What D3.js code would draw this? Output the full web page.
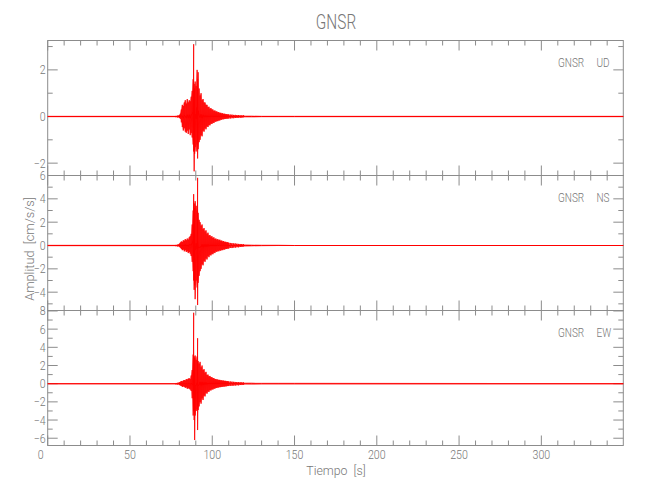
<!DOCTYPE html>
<html>
<head>
<meta charset="utf-8">
<script src="https://cdn.jsdelivr.net/npm/d3@7"></script>
<style>
  html, body { margin: 0; padding: 0; background: #fff; }
  svg { display: block; }
  text { font-family: Roboto, "Liberation Sans Narrow", "DejaVu Sans Condensed", sans-serif; font-weight: 300; fill: #777; }
</style>
</head>
<body>
<svg id="chart" width="650" height="500"></svg>
<script>
// ---------------- DATA ----------------
const chartTitle = "GNSR";
const station = "GNSR";
const components = ["UD", "NS", "EW"];
const xTitle = "Tiempo  [s]";
const yTitle = "Amplitud  [cm/s/s]";
const xDomain = [0, 349.8];
const xMajorTicks = [0, 50, 100, 150, 200, 250, 300];
const xMinorTicks = [10, 20, 30, 40, 60, 70, 80, 90, 110, 120, 130, 140, 160, 170, 180, 190,
                     210, 220, 230, 240, 260, 270, 280, 290, 310, 320, 330, 340];
const yDomains = [[-2.53, 3.26], [-5.57, 6.0], [-6.8, 8.05]];
const yMajorTicks = [[-2, 0, 2], [-4, -2, 0, 2, 4, 6], [-6, -4, -2, 0, 2, 4, 6, 8]];
const yMinorTicks = [[-1, 1, 3], [-5, -3, -1, 1, 3, 5], [-5, -3, -1, 1, 3, 5, 7]];

// envelopes: [time s, max, min] (cm/s/s)
const udEnvelope = [
  [0,0.03,-0.03],[78,0.03,-0.03],[79,0.04,-0.04],[80,0.06,-0.06],[80.6,0.12,-0.1],[81.2,0.3,-0.25],
  [81.8,0.5,-0.45],[82.4,0.45,-0.6],[83,0.6,-0.5],[83.6,0.7,-0.65],[84.2,0.55,-0.7],[84.8,0.75,-0.6],
  [85.4,0.6,-0.75],[86,0.7,-0.55],[86.6,0.65,-0.8],[87.2,0.85,-0.7],[87.8,1.1,-0.9],[88.4,1.6,-1.2],
  [88.7,3.1,-1.5],[89,1.4,-2.35],[89.3,1.2,-1.6],[89.6,1.5,-1.3],[90.2,1.3,-1.5],[90.8,2.0,-1.2],
  [91.1,1.6,-1.8],[91.4,1.9,-1.4],[92,1.2,-1.1],[92.6,0.9,-1.0],[93.2,1.0,-0.8],[93.8,0.7,-0.85],
  [94.4,0.75,-0.6],[95,0.6,-0.65],[95.6,0.6,-0.5],[96.2,0.5,-0.55],[96.8,0.5,-0.42],[97.4,0.4,-0.45],
  [98,0.42,-0.36],[98.6,0.33,-0.38],[99.2,0.36,-0.3],[99.8,0.3,-0.32],[100.4,0.3,-0.26],[101,0.24,-0.28],
  [101.6,0.26,-0.21],[102.2,0.21,-0.23],[102.8,0.22,-0.19],[103.4,0.18,-0.2],[104,0.19,-0.16],[104.6,0.15,-0.17],
  [105.2,0.16,-0.13],[105.8,0.13,-0.14],[106.4,0.14,-0.11],[107,0.11,-0.12],[107.6,0.12,-0.1],[108.2,0.1,-0.1],
  [108.8,0.1,-0.09],[109.4,0.09,-0.09],[110,0.09,-0.08],[111,0.08,-0.08],[112,0.08,-0.07],[113,0.07,-0.07],
  [114,0.07,-0.06],[115,0.06,-0.06],[116,0.06,-0.05],[117,0.05,-0.05],[118,0.05,-0.05],[119,0.05,-0.04],
  [120,0.04,-0.04],[124,0.04,-0.04],[130,0.035,-0.035],[140,0.03,-0.03],[150,0.03,-0.03],[349.8,0.03,-0.03]
];
const nsEnvelope = [
  [0,0.06,-0.06],[78,0.06,-0.06],[79,0.08,-0.08],[80,0.15,-0.12],[80.6,0.25,-0.2],[81.2,0.35,-0.3],
  [81.8,0.3,-0.4],[82.4,0.45,-0.35],[83,0.4,-0.5],[83.6,0.55,-0.4],[84.2,0.45,-0.55],[84.8,0.6,-0.5],
  [85.4,0.5,-0.65],[86,0.7,-0.55],[86.6,0.8,-0.7],[87.2,1.0,-0.9],[87.8,1.8,-1.4],[88.4,3.0,-2.2],
  [88.7,4.4,-3.0],[89,3.6,-3.8],[89.3,3.2,-3.4],[89.6,3.8,-4.6],[90.2,3.4,-3.0],[90.8,3.0,-3.6],
  [91.1,5.8,-5.1],[91.4,2.8,-3.2],[92,2.2,-2.6],[92.6,2.0,-2.2],[93.2,1.7,-2.0],[93.8,1.8,-1.6],
  [94.4,1.4,-1.7],[95,1.5,-1.3],[95.6,1.2,-1.4],[96.2,1.3,-1.1],[96.8,1.0,-1.2],[97.4,1.1,-0.9],
  [98,0.85,-1.0],[98.6,0.9,-0.8],[99.2,0.75,-0.85],[99.8,0.8,-0.7],[100.4,0.65,-0.75],[101,0.7,-0.6],
  [101.6,0.55,-0.65],[102.2,0.6,-0.5],[102.8,0.5,-0.55],[103.4,0.55,-0.45],[104,0.45,-0.5],[104.6,0.5,-0.4],
  [105.2,0.4,-0.45],[105.8,0.42,-0.36],[106.4,0.35,-0.4],[107,0.38,-0.32],[107.6,0.3,-0.35],[108.2,0.32,-0.28],
  [108.8,0.27,-0.3],[109.4,0.28,-0.25],[110,0.24,-0.26],[111,0.22,-0.2],[112,0.2,-0.22],[113,0.18,-0.17],
  [114,0.17,-0.18],[115,0.15,-0.14],[116,0.14,-0.15],[117,0.13,-0.12],[118,0.12,-0.12],[119,0.11,-0.1],
  [120,0.1,-0.1],[124,0.08,-0.08],[130,0.07,-0.06],[140,0.06,-0.05],[150,0.05,-0.05],[349.8,0.05,-0.05]
];
const ewEnvelope = [
  [0,0.08,-0.08],[78,0.08,-0.08],[79,0.1,-0.1],[80,0.15,-0.15],[80.6,0.2,-0.2],[81.2,0.3,-0.25],
  [81.8,0.25,-0.35],[82.4,0.35,-0.3],[83,0.4,-0.35],[83.6,0.35,-0.45],[84.2,0.5,-0.4],[84.8,0.45,-0.55],
  [85.4,0.55,-0.5],[86,0.6,-0.55],[86.6,0.5,-0.65],[87.2,0.9,-0.8],[87.8,1.5,-1.6],[88.4,3.2,-3.5],
  [88.7,7.8,-3.0],[89,3.0,-4.0],[89.3,2.8,-6.2],[89.6,3.1,-3.5],[90.2,2.6,-3.0],[90.8,3.0,-2.8],
  [91.1,5.0,-5.1],[91.4,2.5,-2.9],[92,2.2,-2.5],[92.6,2.4,-2.0],[93.2,1.8,-2.2],[93.8,2.0,-1.6],
  [94.4,1.5,-1.8],[95,1.6,-1.3],[95.6,1.2,-1.4],[96.2,1.3,-1.0],[96.8,0.95,-1.1],[97.4,1.0,-0.85],
  [98,0.8,-0.9],[98.6,0.85,-0.7],[99.2,0.7,-0.75],[99.8,0.72,-0.6],[100.4,0.6,-0.65],[101,0.62,-0.52],
  [101.6,0.5,-0.55],[102.2,0.52,-0.45],[102.8,0.45,-0.48],[103.4,0.46,-0.4],[104,0.4,-0.42],[104.6,0.42,-0.36],
  [105.2,0.36,-0.38],[105.8,0.37,-0.33],[106.4,0.33,-0.34],[107,0.34,-0.3],[107.6,0.3,-0.31],[108.2,0.31,-0.28],
  [108.8,0.27,-0.28],[109.4,0.28,-0.25],[110,0.25,-0.26],[111,0.23,-0.22],[112,0.22,-0.23],[113,0.2,-0.2],
  [114,0.19,-0.2],[115,0.18,-0.17],[116,0.17,-0.18],[117,0.16,-0.15],[118,0.15,-0.15],[119,0.14,-0.14],
  [120,0.14,-0.13],[124,0.12,-0.12],[130,0.1,-0.1],[140,0.09,-0.09],[150,0.09,-0.09],[349.8,0.08,-0.08]
];
const envelopes = [udEnvelope, nsEnvelope, ewEnvelope];

// ---------------- LAYOUT ----------------
const plotLeft = 47.7, plotRight = 623.3, plotTop = 40.5, panelH = 135;
const axisColor = "#8c8c8c", traceColor = "#ff0000";
const fmt = d3.format("d");

const svg = d3.select("#chart");
const x = d3.scaleLinear().domain(xDomain).range([plotLeft, plotRight]);

function narrow(sel, factor) {
  sel.each(function () {
    const w = this.getComputedTextLength();
    d3.select(this).attr("textLength", w * factor).attr("lengthAdjust", "spacingAndGlyphs");
  });
}

svg.append("text").attr("x", 336).attr("y", 29).attr("text-anchor", "middle")
  .style("font-size", "20.5px").text(chartTitle).call(narrow, 0.75);

components.forEach((comp, i) => {
  const y0 = plotTop + i * panelH, y1 = y0 + panelH;
  const y = d3.scaleLinear().domain(yDomains[i]).range([y1, y0]);
  const g = svg.append("g");
  const env = envelopes[i];

  // box
  g.append("rect").attr("x", plotLeft).attr("y", y0).attr("width", plotRight - plotLeft).attr("height", panelH)
    .attr("fill", "none").attr("stroke", axisColor).attr("stroke-width", 1);

  const tk = g.append("g").attr("stroke", axisColor).attr("stroke-width", 1);
  [[yMajorTicks[i], 10], [yMinorTicks[i], 5]].forEach(([ticks, len]) => {
    ticks.forEach(v => {
      tk.append("line").attr("x1", plotLeft).attr("x2", plotLeft + len).attr("y1", y(v)).attr("y2", y(v));
      tk.append("line").attr("x1", plotRight).attr("x2", plotRight - len).attr("y1", y(v)).attr("y2", y(v));
    });
  });
  [[xMajorTicks, 10], [xMinorTicks, 5]].forEach(([ticks, len]) => {
    ticks.forEach(v => {
      tk.append("line").attr("x1", x(v)).attr("x2", x(v)).attr("y1", y0).attr("y2", y0 + len);
      tk.append("line").attr("x1", x(v)).attr("x2", x(v)).attr("y1", y1).attr("y2", y1 - len);
    });
  });

  // trace: envelope fill + centre line + oscillating stroke where sampled densely
  g.append("path").datum(env)
    .attr("d", d3.area().x(d => x(d[0])).y0(d => y(d[2])).y1(d => y(d[1])))
    .attr("fill", traceColor).attr("fill-opacity", 0.55).attr("stroke", "none");
  g.append("path").datum(env)
    .attr("d", d3.line().x(d => x(d[0])).y(d => y((d[1] + d[2]) / 2)))
    .attr("fill", "none").attr("stroke", traceColor).attr("stroke-width", 1);
  const pts = [];
  env.filter((r, k) => k > 0 && k < env.length - 1 && env[k + 1][0] - r[0] <= 1)
     .forEach(r => { pts.push([r[0], r[1]]); pts.push([r[0], r[2]]); });
  g.append("path").datum(pts)
    .attr("d", d3.line().x(d => x(d[0])).y(d => y(d[1])))
    .attr("fill", "none").attr("stroke", traceColor).attr("stroke-width", 0.8);

  g.selectAll("text.ylab").data(yMajorTicks[i]).join("text")
    .attr("class", "ylab")
    .attr("x", plotLeft - 2).attr("y", d => y(d)).attr("dy", "0.36em")
    .attr("text-anchor", "end").style("font-size", "12.5px")
    .text(d => fmt(d)).call(narrow, 0.85);

  g.append("text").attr("x", 558).attr("y", y0 + 26).style("font-size", "12.8px")
    .text(station).call(narrow, 0.78);
  g.append("text").attr("x", 596.5).attr("y", y0 + 26).style("font-size", "12.8px")
    .text(comp).call(narrow, 0.78);

  if (i === components.length - 1) {
    g.selectAll("text.xlab").data(xMajorTicks).join("text")
      .attr("class", "xlab")
      .attr("x", (d, j) => x(d) + (j === 0 ? -7 : 0)).attr("y", y1 + 13)
      .attr("text-anchor", "middle").style("font-size", "12.5px")
      .text(d => fmt(d)).call(narrow, 0.85);
  }
});

svg.append("text").attr("x", 336).attr("y", 475).attr("text-anchor", "middle")
  .style("font-size", "13px").style("white-space", "pre").text(xTitle).call(narrow, 0.95);
svg.append("text").attr("transform", "translate(33.5,249) rotate(-90)")
  .attr("text-anchor", "middle").style("font-size", "13px").style("white-space", "pre")
  .text(yTitle).call(narrow, 0.98);
</script>
</body>
</html>
